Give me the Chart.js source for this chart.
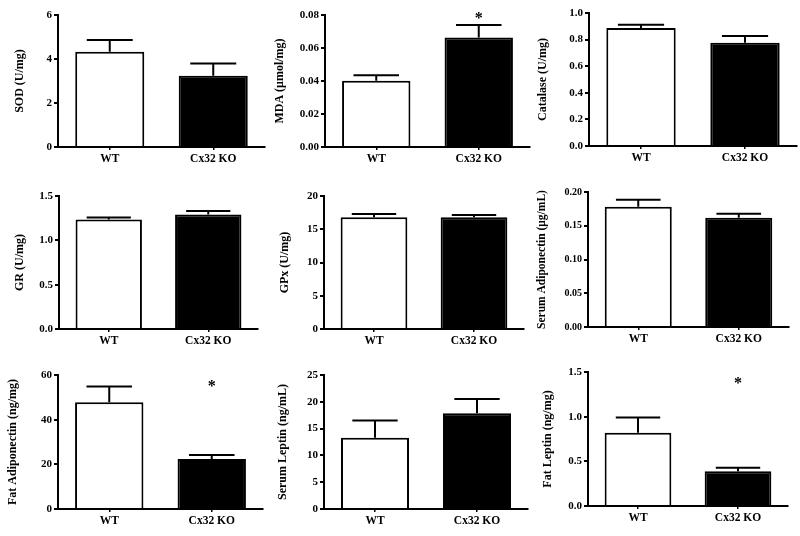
<!DOCTYPE html>
<html><head><meta charset="utf-8">
<script src="https://cdn.jsdelivr.net/npm/chart.js@4/dist/chart.umd.min.js"></script>
<style>
html,body{margin:0;padding:0;background:#fff;width:800px;height:536px;overflow:hidden;position:relative}
canvas{position:absolute}
</style></head><body>
<script>
// ---- data ----
const categories = ['WT', 'Cx32 KO'];

const sodMean = [4.33, 3.24];      const sodErr = [0.53, 0.56];      const sodSig = [null, null];
const mdaMean = [0.0402, 0.0663];  const mdaErr = [0.0033, 0.0076];  const mdaSig = [null, 0.0794];
const catMean = [0.887, 0.777];    const catErr = [0.024, 0.05];     const catSig = [null, null];
const grMean = [1.234, 1.29];      const grErr = [0.024, 0.04];      const grSig = [null, null];
const gpxMean = [16.8, 16.8];      const gpxErr = [0.5, 0.35];       const gpxSig = [null, null];
const sAdipoMean = [0.178, 0.162]; const sAdipoErr = [0.0106, 0.0058]; const sAdipoSig = [null, null];
const fAdipoMean = [47.8, 22.4];   const fAdipoErr = [7.0, 1.8];     const fAdipoSig = [null, 56];
const sLepMean = [13.3, 17.85];    const sLepErr = [3.2, 2.65];      const sLepSig = [null, null];
const fLepMean = [0.82, 0.39];     const fLepErr = [0.17, 0.037];    const fLepSig = [null, 1.405];

const sodTicks = ['0', '2', '4', '6'];
const mdaTicks = ['0.00', '0.02', '0.04', '0.06', '0.08'];
const catTicks = ['0.0', '0.2', '0.4', '0.6', '0.8', '1.0'];
const grTicks = ['0.0', '0.5', '1.0', '1.5'];
const gpxTicks = ['0', '5', '10', '15', '20'];
const sAdipoTicks = ['0.00', '0.05', '0.10', '0.15', '0.20'];
const fAdipoTicks = ['0', '20', '40', '60'];
const sLepTicks = ['0', '5', '10', '15', '20', '25'];
const fLepTicks = ['0.0', '0.5', '1.0', '1.5'];

const titles = ['SOD (U/mg)', 'MDA (μmol/mg)', 'Catalase (U/mg)', 'GR (U/mg)', 'GPx (U/mg)',
  'Serum Adiponectin (μg/mL)', 'Fat Adiponectin (ng/mg)', 'Serum Leptin (ng/mL)', 'Fat Leptin (ng/mg)'];

// ---- layout (pixel geometry of each panel) ----
const panels = [
  {mean: sodMean, err: sodErr, sig: sodSig, ticks: sodTicks, ax: 58, top: 15, right: 265, bottom: 147, d: 38, fs: 11, ts: 12},
  {mean: mdaMean, err: mdaErr, sig: mdaSig, ticks: mdaTicks, ax: 325, top: 15, right: 530, bottom: 147, d: 45, fs: 11, ts: 12},
  {mean: catMean, err: catErr, sig: catSig, ticks: catTicks, ax: 589, top: 13, right: 797, bottom: 146, d: 46, fs: 11, ts: 12},
  {mean: grMean, err: grErr, sig: grSig, ticks: grTicks, ax: 59, top: 196, right: 258, bottom: 329, d: 39, fs: 11, ts: 12},
  {mean: gpxMean, err: gpxErr, sig: gpxSig, ticks: gpxTicks, ax: 324, top: 196, right: 524, bottom: 329, d: 39, fs: 11, ts: 12},
  {mean: sAdipoMean, err: sAdipoErr, sig: sAdipoSig, ticks: sAdipoTicks, ax: 588, top: 192, right: 789, bottom: 327, d: 46, fs: 10, ts: 11.5},
  {mean: fAdipoMean, err: fAdipoErr, sig: fAdipoSig, ticks: fAdipoTicks, ax: 58, top: 375, right: 263, bottom: 509, d: 45, fs: 11, ts: 12},
  {mean: sLepMean, err: sLepErr, sig: sLepSig, ticks: sLepTicks, ax: 324, top: 375, right: 528, bottom: 509, d: 41, fs: 11, ts: 12},
  {mean: fLepMean, err: fLepErr, sig: fLepSig, ticks: fLepTicks, ax: 588, top: 372, right: 788, bottom: 506, d: 40, fs: 11, ts: 12}
];

const FONT = 'Liberation Serif';
const YW = 58, PT = 12, PR = 4, XH = 28;

function makeErrPlugin(errs, sigs) {
  return {
    id: 'errbars',
    afterDatasetsDraw(chart) {
      const ctx = chart.ctx;
      const meta = chart.getDatasetMeta(0);
      const ys = chart.scales.y;
      const data = chart.data.datasets[0].data;
      ctx.save();
      ctx.strokeStyle = '#000';
      ctx.lineWidth = 2;
      meta.data.forEach((bar, i) => {
        const yt = ys.getPixelForValue(data[i] + errs[i]);
        const half = bar.width * 0.333;
        ctx.beginPath();
        ctx.moveTo(bar.x, bar.y);
        ctx.lineTo(bar.x, yt);
        ctx.moveTo(bar.x - half, yt);
        ctx.lineTo(bar.x + half, yt);
        ctx.stroke();
        if (sigs[i] != null) {
          const py = ys.getPixelForValue(sigs[i]);
          ctx.font = 'bold 16px ' + FONT;
          ctx.fillStyle = '#000';
          ctx.textAlign = 'center';
          ctx.textBaseline = 'alphabetic';
          const m = ctx.measureText('*');
          const base = py + (m.actualBoundingBoxAscent - m.actualBoundingBoxDescent) / 2;
          ctx.fillText('*', bar.x, base);
        }
      });
      ctx.restore();
    }
  };
}

panels.forEach((p, idx) => {
  const c = document.createElement('canvas');
  const W = p.right - p.ax + YW + PR;
  const H = p.bottom - p.top + PT + XH;
  c.width = W; c.height = H;
  c.style.left = (p.ax - YW) + 'px';
  c.style.top = (p.top - PT) + 'px';
  c.style.width = W + 'px'; c.style.height = H + 'px';
  document.body.appendChild(c);
  const tickVals = p.ticks.map(parseFloat);
  new Chart(c, {
    type: 'bar',
    data: {
      labels: categories,
      datasets: [{
        data: p.mean,
        backgroundColor: ['#ffffff', '#000000'],
        borderColor: '#000000',
        borderWidth: 2,
        barPercentage: 0.667,
        categoryPercentage: 1.0
      }]
    },
    options: {
      responsive: false,
      animation: false,
      devicePixelRatio: 1,
      layout: {padding: {left: 0, top: PT, right: PR, bottom: 0}},
      plugins: {legend: {display: false}, tooltip: {enabled: false}},
      scales: {
        x: {
          offset: true,
          grid: {display: true, drawOnChartArea: false, drawTicks: true, tickLength: 3, color: '#000', lineWidth: 1.5, offset: false},
          border: {display: true, color: '#000', width: 2},
          ticks: {color: '#000', font: {family: FONT, weight: 'bold', size: 11.5}, padding: 2, maxRotation: 0},
          afterFit(s) { s.height = XH; }
        },
        y: {
          min: tickVals[0],
          max: tickVals[tickVals.length - 1],
          grid: {drawOnChartArea: false, drawTicks: true, tickLength: 4, color: '#000', lineWidth: 2},
          border: {display: true, color: '#000', width: 2},
          ticks: {
            color: '#000', font: {family: FONT, weight: 'bold', size: p.fs}, padding: 2,
            callback: (v, i) => p.ticks[i]
          },
          afterBuildTicks(s) { s.ticks = tickVals.map(v => ({value: v})); },
          title: {
            display: true, text: titles[idx], color: '#000',
            font: {family: FONT, weight: 'bold', size: p.ts},
            padding: {top: Math.max(0, YW - p.d - p.ts * 0.6), bottom: 0}
          },
          afterFit(s) { s.width = YW; }
        }
      }
    },
    plugins: [makeErrPlugin(p.err, p.sig)]
  });
});
</script>
</body></html>
